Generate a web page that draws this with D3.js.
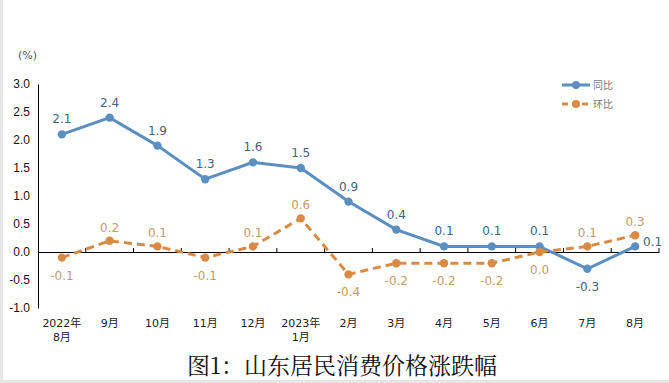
<!DOCTYPE html>
<html><head><meta charset="utf-8">
<script src="https://cdn.jsdelivr.net/npm/d3@7"></script>
<style>body{margin:0;background:#fff;}svg{display:block;font-family:"DejaVu Sans","Noto Sans CJK SC",sans-serif;}</style>
</head><body>
<svg id="c" width="669" height="383"></svg>
<script>
const categories = ["2022年\n8月","9月","10月","11月","12月","2023年\n1月","2月","3月","4月","5月","6月","7月","8月"];
const yoy = [2.1,2.4,1.9,1.3,1.6,1.5,0.9,0.4,0.1,0.1,0.1,-0.3,0.1];
const mom = [-0.1,0.2,0.1,-0.1,0.1,0.6,-0.4,-0.2,-0.2,-0.2,0.0,0.1,0.3];
const yTicks = [3.0,2.5,2.0,1.5,1.0,0.5,0.0,-0.5,-1.0];
const seriesNames = ["同比","环比"];

const svg = d3.select("#c");
const blue = "#5b8fc0", orange = "#d98b45";
const blueTxt = "#3d6483", orangeTxt = "#c49a6c";
const fmt = v => d3.format(".1f")(v).replace("−","-");

// light frame edges
svg.append("rect").attr("x",0).attr("y",0).attr("width",3).attr("height",383).attr("fill","#e6e6e6");
svg.append("rect").attr("x",0).attr("y",380).attr("width",669).attr("height",3).attr("fill","#e6e6e6");

const x = d3.scaleBand().domain(d3.range(categories.length)).range([38,659]).paddingInner(0).paddingOuter(0);
const y = d3.scaleLinear().domain([-1,3]).range([308,84]);
const cx = i => x(i) + x.bandwidth()/2;

// y axis
const yAxis = svg.append("g").attr("transform","translate(38,0)")
  .call(d3.axisLeft(y).tickValues(yTicks).tickFormat(fmt).tickSize(0).tickPadding(8));
yAxis.select(".domain").attr("stroke","#000").attr("stroke-width",1);
yAxis.selectAll("text").attr("font-size",12).attr("fill","#111");

svg.append("text").attr("x",18).attr("y",59).attr("font-size",11).attr("fill","#555").text("(%)");

// x axis at zero
const xAxis = svg.append("g").attr("transform",`translate(0,${y(0)})`)
  .call(d3.axisTop(x).tickValues([]).tickSizeOuter(0));
xAxis.select(".domain").attr("stroke","#000").attr("stroke-width",1.2);
const bounds = d3.range(1,categories.length+1).map(i => i < categories.length ? x(i) : x.range()[1]);
xAxis.selectAll("line.tk").data(bounds).join("line").attr("class","tk")
  .attr("x1",d=>d).attr("x2",d=>d).attr("y1",0).attr("y2",-4).attr("stroke","#000");

// x labels
const xl = svg.append("g");
categories.forEach((c,i)=>{
  const lines = c.split("\n");
  const t = xl.append("text").attr("x",cx(i)).attr("y",327).attr("text-anchor","middle")
    .attr("font-size",11).attr("fill","#222");
  lines.forEach((l,j)=>t.append("tspan").attr("x",cx(i)).attr("dy",j?14:0).text(l));
});

// lines
const line = d3.line().x((d,i)=>cx(i)).y(d=>y(d));
svg.append("path").datum(yoy).attr("d",line).attr("fill","none").attr("stroke",blue).attr("stroke-width",3);
svg.append("path").datum(mom).attr("d",line).attr("fill","none").attr("stroke",orange).attr("stroke-width",3).attr("stroke-dasharray","8,5");
svg.selectAll("circle.b").data(yoy).join("circle").attr("class","b").attr("cx",(d,i)=>cx(i)).attr("cy",d=>y(d)).attr("r",4.2).attr("fill",blue);
svg.selectAll("circle.o").data(mom).join("circle").attr("class","o").attr("cx",(d,i)=>cx(i)).attr("cy",d=>y(d)).attr("r",4.2).attr("fill",orange);

// data labels
yoy.forEach((v,i)=>{
  let lx = cx(i), ly = y(v) - 11, anchor="middle";
  if (v < 0) ly = y(v) + 22;
  if (i === yoy.length-1) { lx = cx(i)+8; ly = y(v)+0; anchor="start"; }
  svg.append("text").attr("x",lx).attr("y",ly).attr("text-anchor",anchor).attr("font-size",12).attr("fill",blueTxt).text(fmt(v));
});
mom.forEach((v,i)=>{
  let ly = v > 0 ? y(v) - 9 : y(v) + 22;
  svg.append("text").attr("x",cx(i)).attr("y",ly).attr("text-anchor","middle").attr("font-size",12).attr("fill",orangeTxt).text(fmt(v));
});

// legend
const lg = svg.append("g");
[[blue,null,blueTxt],[orange,"6,4",orangeTxt]].forEach((s,k)=>{
  const yy = 85 + k*19;
  lg.append("line").attr("x1",562).attr("x2",590).attr("y1",yy).attr("y2",yy).attr("stroke",s[0]).attr("stroke-width",3).attr("stroke-dasharray",s[1]);
  lg.append("circle").attr("cx",576).attr("cy",yy).attr("r",4).attr("fill",s[0]);
  lg.append("text").attr("x",593).attr("y",yy+4).attr("font-size",10).attr("fill","#777").text(seriesNames[k]);
});

// title
svg.append("text").attr("x",342).attr("y",374).attr("text-anchor","middle")
  .attr("font-family","'Noto Serif CJK SC','Noto Sans CJK SC',serif").attr("font-size",23).attr("fill","#111")
  .text("图1：山东居民消费价格涨跌幅");
</script>
</body></html>
